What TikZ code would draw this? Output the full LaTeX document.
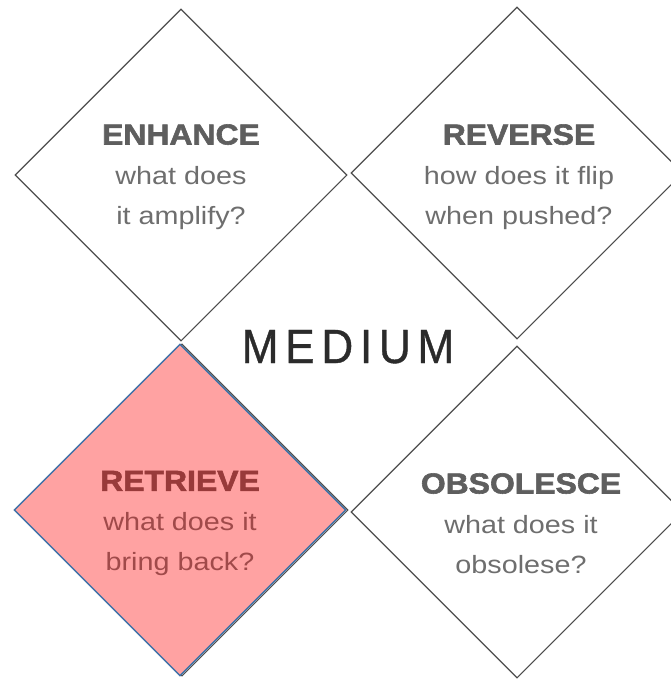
\documentclass[tikz,border=0pt]{standalone}
\usepackage{fontspec}
\usepackage{tikz}
\usetikzlibrary{shapes.geometric}
\setmainfont{Liberation Sans}
\newfontfamily\headfont[FakeStretch=1.1,FakeBold=2]{Liberation Sans Bold}
\newfontfamily\askfont[FakeStretch=1.15]{Liberation Sans}
\newfontfamily\midfont[LetterSpace=14,FakeStretch=0.92,FakeBold=0.8]{Liberation Sans}
\definecolor{edgegray}{HTML}{4D4D4D}
\definecolor{headgray}{HTML}{5E5E5E}
\definecolor{askgray}{HTML}{6E6E6E}
\definecolor{retfill}{HTML}{FFA2A2}
\definecolor{retedge}{HTML}{3F72A8}
\definecolor{rethead}{HTML}{983A3A}
\definecolor{retask}{HTML}{A04A4A}
\definecolor{midgray}{HTML}{2B2B2B}

\begin{document}
\begin{tikzpicture}[x=1pt,y=1pt,yscale=-1,
  facet/.style={draw=edgegray,line width=1.1pt,shape=diamond,inner sep=0pt,minimum width=332pt,minimum height=332pt},
  facettext/.style={align=center,text=askgray,font=\askfont\fontsize{25}{40}\selectfont}]
\useasboundingbox (0,0) rectangle (671,681);
\clip (0,0) rectangle (671,681);

% the four diamonds
\node[facet] (enhance) at (181,175) {};
\node[facet] (reverse) at (517,173) {};
\node[facet] (obsolesce) at (517,512) {};
\node[facet] (retrieveback) at (182,510) {};
\node[facet,fill=retfill,draw=retedge,line width=1.4pt] (retrieve) at (180,510) {};

% Text Nodes
\node[facettext] (enhancetxt) at (181,177) {{\headfont\fontsize{29}{40}\selectfont\color{headgray}ENHANCE}\\what does\\it amplify?};
\node[facettext] (reversetxt) at (519,177) {{\headfont\fontsize{29}{40}\selectfont\color{headgray}REVERSE}\\how does it flip\\when pushed?};
\node[facettext,text=retask] (retrievetxt) at (180,523.5) {{\headfont\fontsize{29}{40}\selectfont\color{rethead}RETRIEVE}\\what does it\\bring back?};
\node[facettext] (obsolescetxt) at (521,523.5) {{\headfont\fontsize{29}{40}\selectfont\color{headgray}OBSOLESCE}\\what does it\\obsolese?};

% centre
\node[font=\midfont\fontsize{48}{48}\selectfont,text=midgray,anchor=base] (medium) at (348,363) {MEDIUM};

\end{tikzpicture}
\end{document}
